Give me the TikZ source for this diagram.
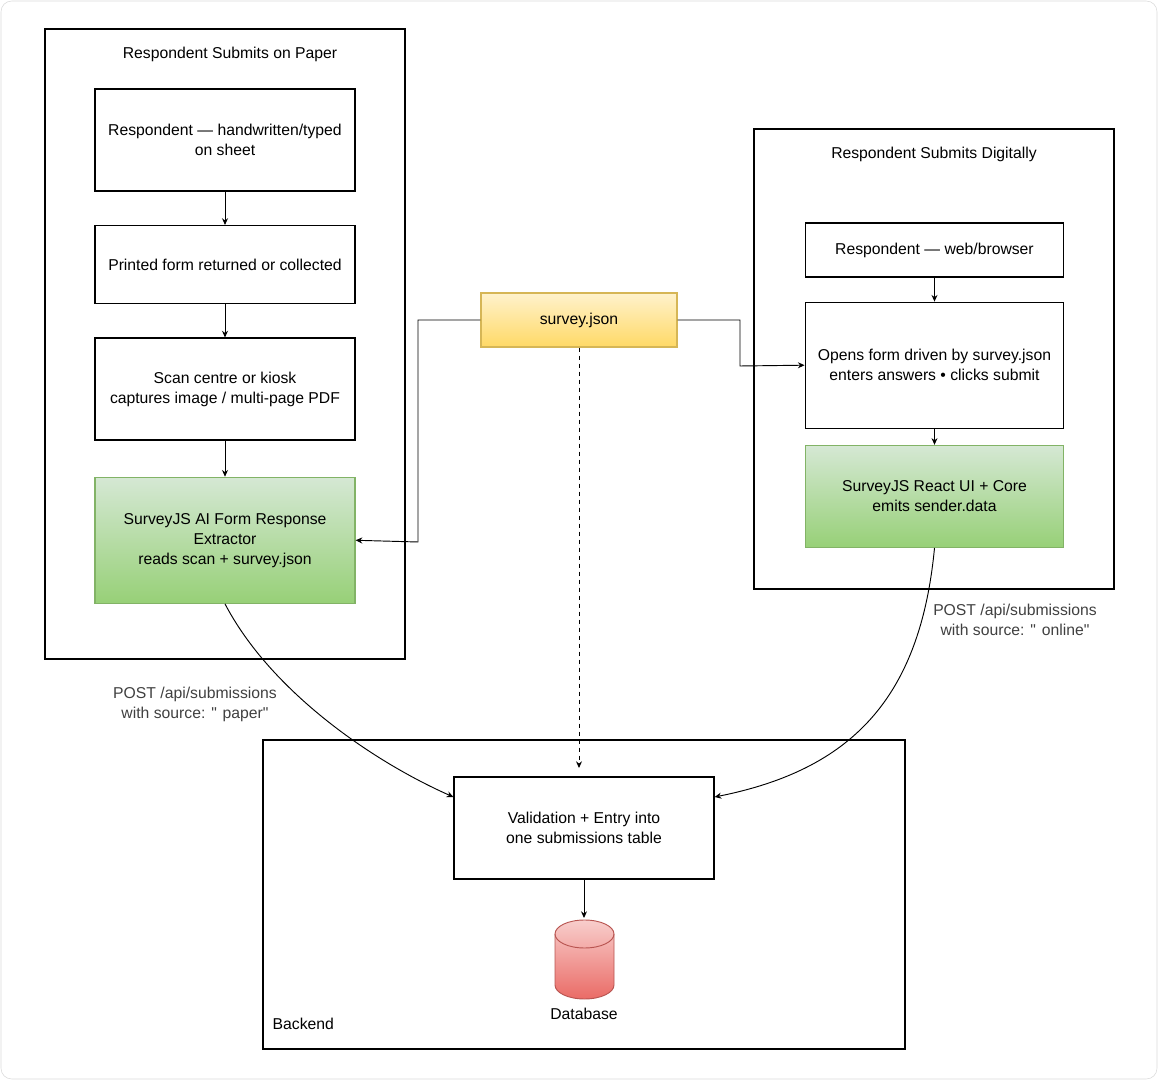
\documentclass[tikz,border=0pt]{standalone}
\usepackage{fontspec}
\setmainfont{Liberation Sans}
\usetikzlibrary{positioning,shapes.geometric,arrows.meta}
\definecolor{grnT}{HTML}{D5E8D4}
\definecolor{grnB}{HTML}{97D077}
\definecolor{grnD}{HTML}{82B366}
\definecolor{ylwT}{HTML}{FFF2CC}
\definecolor{ylwB}{HTML}{FFD966}
\definecolor{ylwD}{HTML}{D6B656}
\definecolor{redT}{HTML}{F8CECC}
\definecolor{redB}{HTML}{EA6B66}
\definecolor{redD}{HTML}{B85450}
\tikzstyle{frame}=[rectangle,draw=black,line width=0.9pt]
\tikzstyle{stage}=[rectangle,fill=white,draw=black,line width=0.9pt,minimum width=195pt,align=center,inner sep=2pt]
\tikzstyle{engine}=[stage,draw=grnD,top color=grnT,bottom color=grnB]
\tikzstyle{mypath}=[-{Stealth[length=5pt,width=4.5pt]},line width=0.7pt]
\tikzstyle{post}=[text=black!75,align=center]
\begin{document}
\begin{tikzpicture}[x=0.75pt,y=-0.75pt,font=\fontsize{11.8}{15}\selectfont,node distance=25pt]
\useasboundingbox (0,0) rectangle (1158,1080);
\draw[black!15,rounded corners=8pt] (1,1) rectangle (1157,1079);

% paper side
\draw[frame] (45,29) rectangle (405,659);
\node at (230,54) {Respondent Submits on Paper};
\node[stage,minimum height=76.5pt] (hand) at (225,140) {Respondent — handwritten/typed\\on sheet};
\node[stage,minimum height=58.5pt,below=of hand] (print) {Printed form returned or collected};
\node[stage,minimum height=76.5pt,below=of print] (scan) {Scan centre or kiosk\\captures image / multi-page PDF};
\node[engine,minimum height=94.5pt,below=27pt of scan] (extr) {SurveyJS AI Form Response\\Extractor\\reads scan + survey.json};

% digital side
\draw[frame] (754,129) rectangle (1114,589);
\node at (934,154) {Respondent Submits Digitally};
\node[stage,minimum width=194pt,minimum height=40.5pt] (web) at (934.5,250) {Respondent — web/browser};
\node[stage,minimum width=194pt,minimum height=94.5pt,below=18pt of web] (open) {Opens form driven by survey.json\\enters answers • clicks submit};
\node[engine,minimum width=194pt,minimum height=76.5pt,below=12pt of open] (core) {SurveyJS React UI + Core\\emits sender.data};

% schema
\node[stage,minimum width=147pt,minimum height=40.5pt,draw=ylwD,top color=ylwT,bottom color=ylwB] (json) at (579,320) {survey.json};

% backend
\draw[frame] (263,740) rectangle (905,1049);
\node[anchor=west] (back) at (268,1024) {Backend};
\node[stage,minimum height=76.5pt] (valid) at (584,828) {Validation + Entry into\\one submissions table};
\coordinate (db) at (584,934);
\draw[draw=redD,top color=redT,bottom color=redB,line width=0.7pt] (555,934) -- (555,985) arc[start angle=180,end angle=360,x radius=29.5,y radius=-14] -- (614,934) arc[start angle=0,end angle=180,x radius=29.5,y radius=-14];
\draw[draw=redD,line width=0.7pt] (555,934) arc[start angle=180,end angle=360,x radius=29.5,y radius=-14];
\node (dblbl) at (584,1014) {Database};

\draw[mypath] (hand) -- (print);
\draw[mypath] (print) -- (scan);
\draw[mypath] (scan) -- (extr);
\draw[mypath] (web) -- (open);
\draw[mypath] (open) -- (core);
\draw[mypath] (json.west) -| (418,542) -- (extr.east);
\draw[mypath] (json.east) -| (740,366) -- (open.west);
\draw[mypath,dashed] (json.south) -- (579,768);
\draw[mypath] (extr.south) .. controls (270,690) and (370,760) .. (valid.west |- 0,797);
\node[post] at (195,704) {POST /api/submissions\\with source: \textquotedbl{} paper\textquotedbl};
\draw[mypath] (core.south) .. controls (920,700) and (850,770) .. (valid.east |- 0,797);
\node[post] at (1015,620) {POST /api/submissions\\with source: \textquotedbl{} online\textquotedbl};
\draw[mypath] (valid) -- (584,918);
\end{tikzpicture}
\end{document}
